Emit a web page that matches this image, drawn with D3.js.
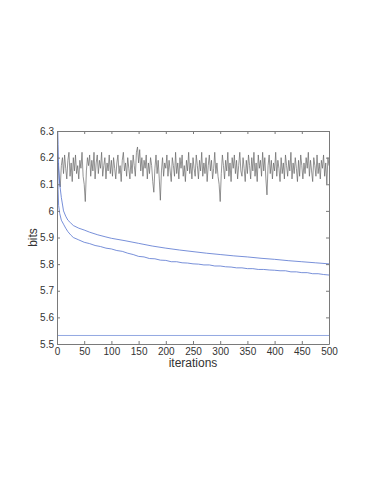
<!DOCTYPE html>
<html><head><meta charset="utf-8">
<script src="https://cdn.jsdelivr.net/npm/d3@7"></script>
<style>html,body{margin:0;padding:0;background:#fff;}svg{display:block;}</style>
</head><body>
<svg id="c" width="374" height="484"></svg>
<script>
const xTicks = [0,50,100,150,200,250,300,350,400,450,500];
const yTicks = [5.5,5.6,5.7,5.8,5.9,6,6.1,6.2,6.3];

// gray noisy series, one value every 2 iterations (0..500)
const noisyStep = 2;
const noisy = [
6.15,6.18,6.12,6.09,6.17,6.20,6.14,6.21,6.16,6.12,6.19,6.22,6.13,6.18,6.11,6.20,6.15,6.21,6.14,6.17,6.12,6.19,6.16,6.22,6.13,
6.10,6.035,6.15,6.20,6.17,6.21,6.13,6.19,6.15,6.22,6.12,6.18,6.21,6.14,6.19,6.16,6.22,6.13,6.17,6.20,6.12,6.18,6.15,6.21,6.14,
6.19,6.13,6.20,6.16,6.12,6.18,6.21,6.14,6.17,6.11,6.19,6.22,6.15,6.18,6.13,6.20,6.16,6.12,6.19,6.14,6.21,6.17,6.13,6.22,6.24,
6.18,6.23,6.15,6.20,6.13,6.19,6.16,6.21,6.12,6.18,6.14,6.20,6.17,6.11,6.07,6.16,6.21,6.14,6.19,6.12,6.04,6.15,6.20,6.13,6.18,
6.16,6.21,6.13,6.19,6.15,6.11,6.20,6.17,6.13,6.22,6.14,6.18,6.12,6.20,6.16,6.21,6.13,6.17,6.11,6.19,6.15,6.22,6.14,6.18,6.12,
6.20,6.16,6.13,6.21,6.17,6.12,6.19,6.15,6.22,6.13,6.18,6.14,6.20,6.11,6.17,6.21,6.15,6.19,6.12,6.16,6.22,6.14,6.18,6.13,6.10,
6.035,6.14,6.21,6.17,6.12,6.19,6.15,6.22,6.13,6.18,6.11,6.20,6.16,6.21,6.14,6.19,6.12,6.17,6.22,6.15,6.13,6.20,6.16,6.11,6.19,
6.14,6.21,6.17,6.12,6.20,6.15,6.22,6.13,6.18,6.11,6.21,6.16,6.19,6.13,6.22,6.15,6.20,6.12,6.06,6.17,6.21,6.14,6.19,6.12,6.18,
6.15,6.22,6.13,6.19,6.16,6.11,6.20,6.14,6.18,6.12,6.21,6.17,6.13,6.19,6.15,6.22,6.12,6.18,6.14,6.20,6.16,6.11,6.19,6.13,6.21,
6.17,6.12,6.18,6.14,6.20,6.16,6.22,6.13,6.19,6.15,6.11,6.20,6.17,6.13,6.21,6.14,6.18,6.12,6.19,6.16,6.21,6.13,6.18,6.10,6.20,6.17
];

const upperIter = [0,1,2,3,5,8,12,16,20,25,30,40,50,60,75,90,100,125,150,175,200,225,250,275,300,325,350,375,400,425,450,475,500];
const upperVal  = [6.5,6.35,6.25,6.17,6.10,6.05,6.00,5.98,5.965,5.955,5.945,5.935,5.928,5.92,5.91,5.902,5.897,5.888,5.878,5.868,5.86,5.853,5.847,5.841,5.836,5.831,5.827,5.822,5.818,5.813,5.809,5.805,5.801];

const lowerIter = [0,1,2,3,5,8,12,16,20,25,30,40,50,60,70,80,90,100,110,120,130,140,150,160,170,180,190,200,210,220,230,240,250,260,270,280,290,300,310,320,330,340,350,360,370,380,390,400,410,420,430,440,450,460,470,480,490,500];
const lowerVal  = [6.4,6.2,6.08,6.02,5.99,5.965,5.95,5.935,5.922,5.91,5.900,5.891,5.882,5.877,5.870,5.866,5.860,5.857,5.851,5.848,5.841,5.836,5.829,5.827,5.821,5.820,5.815,5.814,5.809,5.809,5.805,5.804,5.801,5.800,5.797,5.797,5.793,5.793,5.790,5.789,5.786,5.786,5.783,5.783,5.780,5.780,5.778,5.777,5.775,5.775,5.771,5.771,5.768,5.768,5.764,5.764,5.761,5.759];

const baseline = 5.532;

const svg = d3.select("#c");
const L = 57, T = 131, W = 272, H = 213;
const x = d3.scaleLinear().domain([0,500]).range([L, L+W]);
const y = d3.scaleLinear().domain([5.5,6.3]).range([T+H, T]);

svg.append("defs").append("clipPath").attr("id","clip")
  .append("rect").attr("x",L).attr("y",T).attr("width",W).attr("height",H);

const g = svg.append("g").attr("clip-path","url(#clip)");
const line = d3.line().x(d=>x(d[0])).y(d=>y(d[1]));

g.append("path").datum(noisy.map((v,i)=>[i*noisyStep,v]))
  .attr("d",line).attr("fill","none").attr("stroke","#666").attr("stroke-width",0.7);
g.append("path").datum(upperIter.map((v,i)=>[v,upperVal[i]]))
  .attr("d",line).attr("fill","none").attr("stroke","#5574cf").attr("stroke-width",0.8);
g.append("path").datum(lowerIter.map((v,i)=>[v,lowerVal[i]]))
  .attr("d",line).attr("fill","none").attr("stroke","#5574cf").attr("stroke-width",0.8);
g.append("path").datum([[0,baseline],[500,baseline]])
  .attr("d",line).attr("fill","none").attr("stroke","#93a8e2").attr("stroke-width",1);

const font = "'Liberation Sans', Arial, sans-serif";
const ax = svg.append("g").attr("font-family",font);
const axisColor = "#7a7a7a";

const bx = ax.append("g").attr("transform",`translate(0,${T+H})`)
  .call(d3.axisBottom(x).tickValues(xTicks).tickSizeInner(-3).tickSizeOuter(0).tickPadding(4).tickFormat(d3.format("d")));
const tx = ax.append("g").attr("transform",`translate(0,${T})`)
  .call(d3.axisTop(x).tickValues(xTicks).tickSizeInner(-3).tickSizeOuter(0).tickFormat(""));
const ly = ax.append("g").attr("transform",`translate(${L},0)`)
  .call(d3.axisLeft(y).tickValues(yTicks).tickSizeInner(-3).tickSizeOuter(0).tickPadding(3).tickFormat(d=>d3.format("")(+d.toFixed(1))));
const ry = ax.append("g").attr("transform",`translate(${L+W},0)`)
  .call(d3.axisRight(y).tickValues(yTicks).tickSizeInner(-3).tickSizeOuter(0).tickFormat(""));

[bx,tx,ly,ry].forEach(a=>{
  a.select(".domain").attr("stroke",axisColor);
  a.selectAll(".tick line").attr("stroke",axisColor);
  a.selectAll("text").attr("fill","#333").attr("font-size",10).attr("font-family",font);
});

ax.append("text").attr("x",L+W/2).attr("y",367).attr("text-anchor","middle")
  .attr("font-size",12).attr("fill","#333").text("iterations");
ax.append("text").attr("transform",`translate(37,${T+H/2}) rotate(-90)`).attr("text-anchor","middle")
  .attr("font-size",12).attr("fill","#333").text("bits");
</script>
</body></html>
